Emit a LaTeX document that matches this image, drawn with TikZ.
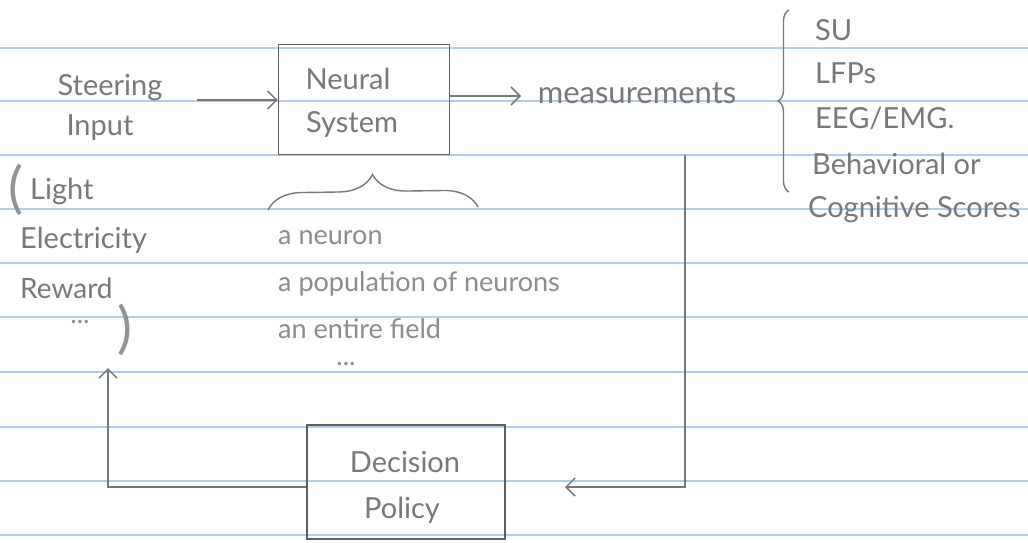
\documentclass[tikz,border=0pt]{standalone}
\usepackage{fontspec}
\setmainfont{Lato}
\usetikzlibrary{arrows.meta,decorations.pathreplacing}
\definecolor{pencil}{RGB}{120,120,120}
\definecolor{boxpencil}{RGB}{95,95,95}
\definecolor{ruled}{RGB}{178,204,238}
\begin{document}
\begin{tikzpicture}[x=1pt,y=-1pt,
  hand/.style={font=\fontsize{29}{31}\selectfont, text=pencil, inner sep=0pt},
  small/.style={font=\fontsize{27}{29}\selectfont, text=pencil!85, inner sep=0pt},
  paren/.style={font=\fontsize{56}{56}\selectfont, text=pencil!80, inner sep=0pt},
  boxnode/.style={draw=boxpencil, line width=1.6pt, inner sep=0pt},
  conn/.style={draw=pencil, line width=1.5pt},
  arr/.style={conn, -{Straight Barb[length=9pt,width=18pt,line width=1.5pt]}},
  bracestyle/.style={draw=pencil, line width=1.4pt, decorate}]
\useasboundingbox (0,0) rectangle (1028,542);
\fill[white] (0,0) rectangle (1028,542);
\foreach \y in {48,101,155,209,263,317,372,427,481,535}
  \draw[ruled, line width=1.3pt] (0,\y) -- (1028,\y);

% boxes
\node[boxnode, minimum width=171pt, minimum height=110pt] (ns) at (364,99.5) {};
\node[hand] (nst1) at (348,79) {Neural};
\node[hand] (nst2) at (352,124) {System};
\node[boxnode, minimum width=198pt, minimum height=114pt] (dp) at (406,482) {};
\node[hand] (dpt1) at (405,462) {Decision};
\node[hand] (dpt2) at (402,510) {Policy};

% steering input
\node[hand] (steer) at (110,88) {Steering};
\node[hand] (input) at (100,128) {Input};
\coordinate (sin) at (197,100);
\draw[arr] (sin) -- (ns.west |- sin);

% measurements
\node[hand, font=\fontsize{31}{33}\selectfont] (meas) at (637,93) {measurements};
\coordinate (mout) at (521,96);
\draw[arr] (ns.east |- mout) -- (mout);

% right brace and list
\coordinate (rbb) at (789,192);
\coordinate (rbt) at (789,10);
\draw[bracestyle, decoration={brace, amplitude=11pt}] (rbb) -- (rbt);
\node[hand, anchor=west] (su) at (815,30) {SU};
\node[hand, anchor=west] (lfp) at (815,73) {LFPs};
\node[hand, anchor=west] (eeg) at (815,118) {EEG/EMG.};
\node[hand, anchor=west] (beh) at (812,164) {Behavioral or};
\node[hand, anchor=west] (cog) at (808,210) {Cognitive Scores};

% under brace and list
\coordinate (ubl) at (268,210);
\coordinate (ubr) at (478,207);
\draw[bracestyle, decoration={brace, amplitude=34pt, aspect=0.5}] (ubl) -- (ubr);
\node[small, anchor=west] (n1) at (278,238) {a neuron};
\node[small, anchor=west] (n2) at (278,284) {a population of neurons};
\node[small, anchor=west] (n3) at (278,329) {an entire field};
\node[small] (n4) at (346,364) {...};

% stimuli
\node[paren] (lp) at (16,190) {(};
\node[hand, anchor=west] (light) at (30,191) {Light};
\node[hand, anchor=west] (elec) at (20,240) {Electricity};
\node[hand, font=\fontsize{28}{30}\selectfont, anchor=west] (rew) at (20,288) {Reward};
\node[small] (dots) at (80,322) {...};
\node[paren] (rp) at (125,330) {)};

% feedback loop
\coordinate (fbtop) at (685,155);
\coordinate (fbend) at (565,487);
\draw[arr] (fbtop) |- (fbend);
\coordinate (ret) at (108,368);
\draw[arr] (dp.west |- fbend) -| (ret);
\end{tikzpicture}
\end{document}
